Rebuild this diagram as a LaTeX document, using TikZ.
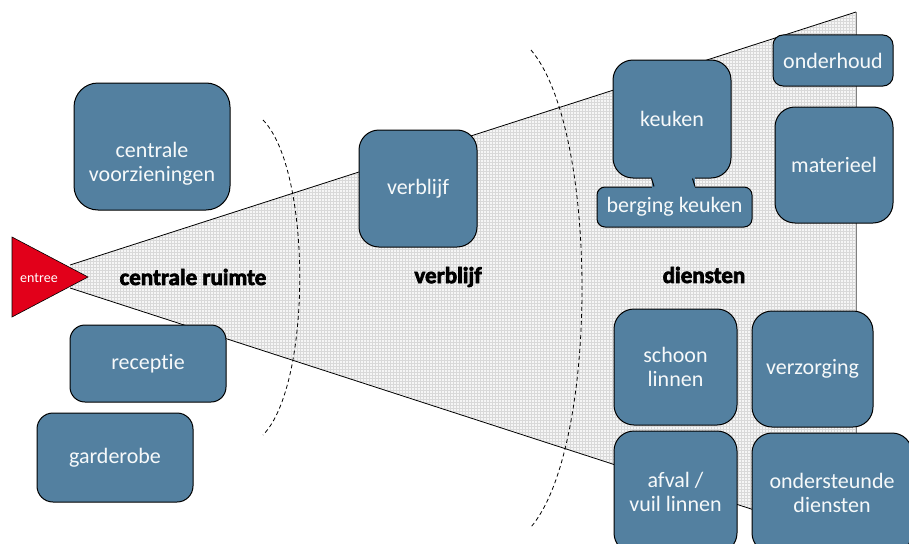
\documentclass[tikz,border=0pt]{standalone}
\usepackage{fontspec}
\setmainfont{Carlito}[Ligatures=NoCommon]
\newfontfamily\heavyfont{Carlito}[Ligatures=NoCommon, BoldFeatures={FakeBold=3}]
\usetikzlibrary{patterns}
\definecolor{boxblue}{RGB}{83,128,160}
\definecolor{entreered}{RGB}{226,0,26}
\begin{document}
\begin{tikzpicture}[x=1pt,y=-1pt,
  box/.style={draw=black, line width=1pt, fill=boxblue, text=white!95!boxblue,
    font=\fontsize{22}{24}\selectfont, align=center, inner sep=0pt, rounded corners=#1},
  box/.default=18pt,
  boxtext/.style={text=white!95!boxblue, font=\fontsize{22}{24}\selectfont, align=center, inner sep=0pt},
  zonelabel/.style={font=\heavyfont\bfseries\fontsize{23}{26}\selectfont, text=black},
  arcline/.style={line width=0.8pt, dash pattern=on 4pt off 3pt},
  edge/.style={line width=0.8pt, black}]
\useasboundingbox (0,0) rectangle (909,543);

% wedge
\coordinate (wtl) at (70,265);
\coordinate (wtr) at (856,12);
\coordinate (wbr) at (856,543);
\coordinate (wbl) at (70,288);
\fill[gray!7] (wtl) -- (wtr) -- (wbr) -- (wbl) -- cycle;
\fill[pattern=grid, pattern color=gray!30] (wtl) -- (wtr) -- (wbr) -- (wbl) -- cycle;
\draw[edge] (wtl) -- (wtr);
\draw[edge] (wbl) -- (wbr);
\draw[gray, line width=0.8pt] (wtr) -- (wbr);

% dashed arcs
\draw[arcline] (263,120) .. controls (312,170) and (312,385) .. (263,435);
\draw[arcline] (531,50) .. controls (599,130) and (599,447) .. (531,527);

% zone labels
\node[zonelabel] (lcr) at (193,277) {centrale ruimte};
\node[zonelabel] (lvb) at (448,277) {verblijf};
\node[zonelabel] (ldi) at (704,275) {diensten};

% entree
\fill[entreered, draw=black, line width=0.6pt] (12,237) -- (88,277) -- (12,317) -- cycle;
\node[text=white, font=\fontsize{14}{16}\selectfont] (entree) at (39,278) {entree};

% boxes
\node[box=24pt, minimum width=156pt, minimum height=127pt] (cv) at (152,146.5) {};
\node[boxtext] (cvt) at (152,164) {centrale\\voorzieningen};
\node[box=15pt, minimum width=156pt, minimum height=77pt] (rec) at (148,363.5) {receptie};
\node[box=16pt, minimum width=156pt, minimum height=89pt] (gar) at (115,457.5) {garderobe};
\node[box=20pt, minimum width=118pt, minimum height=117pt] (vb) at (418,188.5) {verblijf};

\node[box=20pt, minimum width=118pt, minimum height=118pt] (keu) at (672,119) {keuken};
\node[box=8pt, minimum width=155pt, minimum height=40pt] (berg) at (674.5,207) {berging keuken};
\fill[boxblue] ([xshift=-20.5pt,yshift=2pt]keu.south) rectangle ([xshift=20.5pt,yshift=-2pt]berg.north);
\draw[line width=1pt] ([xshift=-20.5pt]keu.south) -- ([xshift=-20.5pt]berg.north);
\draw[line width=1pt] ([xshift=20.5pt]keu.south) -- ([xshift=20.5pt]berg.north);

\node[box=10pt, minimum width=120pt, minimum height=51pt] (ond) at (833,60.5) {onderhoud};
\node[box=20pt, minimum width=118pt, minimum height=116pt] (mat) at (834,165) {materieel};
\node[box=20pt, minimum width=123pt, minimum height=116pt] (sch) at (675.5,367) {schoon\\linnen};
\node[box=20pt, minimum width=121pt, minimum height=116pt] (ver) at (812.5,369) {verzorging};
\node[box=20pt, minimum width=123pt, minimum height=122pt] (afv) at (675.5,492) {afval /\\vuil linnen};
\node[box=20pt, minimum width=160pt, minimum height=120pt] (osd) at (832,493) {ondersteunde\\diensten};
\end{tikzpicture}
\end{document}
